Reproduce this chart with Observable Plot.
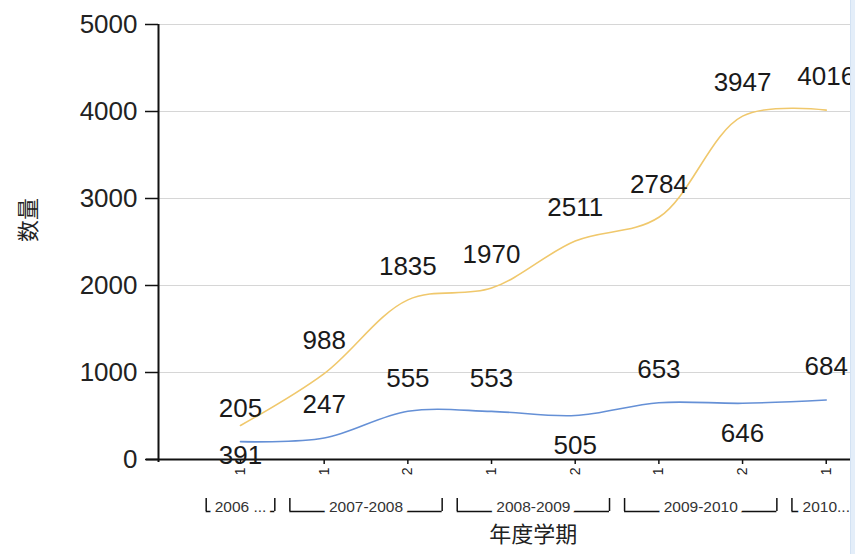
<!DOCTYPE html>
<html>
<head>
<meta charset="utf-8">
<script src="https://cdn.jsdelivr.net/npm/d3@7"></script>
<script src="https://cdn.jsdelivr.net/npm/@observablehq/plot@0.6"></script>
<style>
  html, body { margin: 0; padding: 0; background: #fff; overflow: hidden; }
  #wrap { position: relative; width: 855px; height: 554px; overflow: hidden; }
  #edge { position: absolute; top: 0; right: 0; width: 4px; height: 554px; background: #e4eef9; border-left: 1px solid #d3e2f3; }
  svg { overflow: hidden; }
</style>
</head>
<body>
<div id="wrap"><div id="chart"></div><div id="edge"></div></div>
<script>
// ---- data ----
const terms = ["1", "1", "2", "1", "2", "1", "2", "1"];
const years = ["2006 ...", "2007-2008", "2008-2009", "2009-2010", "2010..."];
const yearStart = [0, 1, 3, 5, 7];
const yearEnd = [0, 2, 4, 6, 7];
const seriesA = [391, 988, 1835, 1970, 2511, 2784, 3947, 4016];   // orange
const seriesB = [205, 247, 555, 553, 505, 653, 646, 684];         // blue
const sideA = ["below", "above", "above", "above", "above", "above", "above", "above"];
const sideB = ["above", "above", "above", "above", "below", "above", "below", "above"];
const yTicks = [0, 1000, 2000, 3000, 4000, 5000];
const yTitle = "数量";
const xTitle = "年度学期";

// ---- layout ----
const W = 855, H = 554, mt = 24, mb = 95, ml = 158, mr = 5;
const xDomain = [-0.98, 7.29];
const yDomain = [0, 5000];
const px = (yDomain[1] - yDomain[0]) / (H - mt - mb); // data units per pixel

const rowsA = seriesA.map((v, i) => ({i, v, side: sideA[i]}));
const rowsB = seriesB.map((v, i) => ({i, v, side: sideB[i]}));
const bracketEnds = years.flatMap((d, i) => [yearStart[i] - 0.41, yearEnd[i] + 0.41]);

const latin = "'Liberation Sans', Arial, sans-serif";
const cjk = "'Noto Sans CJK SC', 'Liberation Sans', sans-serif";
const orange = "#f0c86c";
const blue = "#6590d6";

const labelMarks = (rows) => [
  Plot.text(rows, {filter: d => d.side === "above", x: "i", y: "v", text: d => String(d.v), dy: -33, fontSize: 26, fill: "#1a1a1a", fontFamily: latin}),
  Plot.text(rows, {filter: d => d.side === "below", x: "i", y: "v", text: d => String(d.v), dy: 30, fontSize: 26, fill: "#1a1a1a", fontFamily: latin})
];

const chart = Plot.plot({
  width: W, height: H,
  marginTop: mt, marginBottom: mb, marginLeft: ml, marginRight: mr,
  x: {type: "linear", domain: xDomain, axis: null},
  y: {type: "linear", domain: yDomain, axis: null},
  style: {fontFamily: latin, color: "#222", background: "white"},
  marks: [
    Plot.gridY(yTicks.slice(1), {stroke: "#d6d6d6", strokeOpacity: 1, strokeWidth: 1}),
    Plot.axisY({ticks: yTicks, tickFormat: d => String(d), tickSize: 13, tickPadding: 8, fontSize: 26, label: null, stroke: "#111", strokeWidth: 1.5}),
    Plot.axisX({ticks: d3.range(terms.length), tickFormat: i => terms[i], tickRotate: -90, tickSize: 5, tickPadding: 3, fontSize: 14, label: null, stroke: "#111", strokeWidth: 1.5}),
    Plot.ruleX([xDomain[0]], {y1: yDomain[0] - 3 * px, y2: yDomain[1], stroke: "#111", strokeWidth: 2}),
    Plot.ruleY([0], {x1: xDomain[0] - 12 / 83.7, x2: xDomain[1], stroke: "#111", strokeWidth: 2}),
    Plot.line(rowsA, {x: "i", y: "v", curve: "catmull-rom", stroke: orange, strokeWidth: 1.6}),
    Plot.line(rowsB, {x: "i", y: "v", curve: "catmull-rom", stroke: blue, strokeWidth: 1.6}),
    ...labelMarks(rowsA),
    ...labelMarks(rowsB),
    // year group brackets
    Plot.ruleY(years, {y: () => 0, x1: (d, i) => yearStart[i] - 0.41, x2: (d, i) => yearEnd[i] + 0.41, dy: 52, stroke: "#111", strokeWidth: 1.5}),
    Plot.ruleX(bracketEnds, {x: d => d, y1: () => 0, y2: () => 13 * px, dy: 52, stroke: "#111", strokeWidth: 1.5}),
    Plot.text(years, {x: (d, i) => (yearStart[i] + yearEnd[i]) / 2, y: () => 0, dy: 48, text: d => d, fontSize: 15.5, fill: "#333", stroke: "white", strokeWidth: 10, paintOrder: "stroke"}),
    // axis titles
    Plot.text([xTitle], {x: () => d3.mean(d3.range(terms.length)), y: () => 0, dy: 75, text: d => d, fontSize: 22, fontFamily: cjk, fill: "#222"}),
    Plot.text([yTitle], {frameAnchor: "left", dx: -130, rotate: -90, text: d => d, fontSize: 22, fontFamily: cjk, fill: "#222"})
  ]
});
document.getElementById("chart").appendChild(chart);
</script>
</body>
</html>
